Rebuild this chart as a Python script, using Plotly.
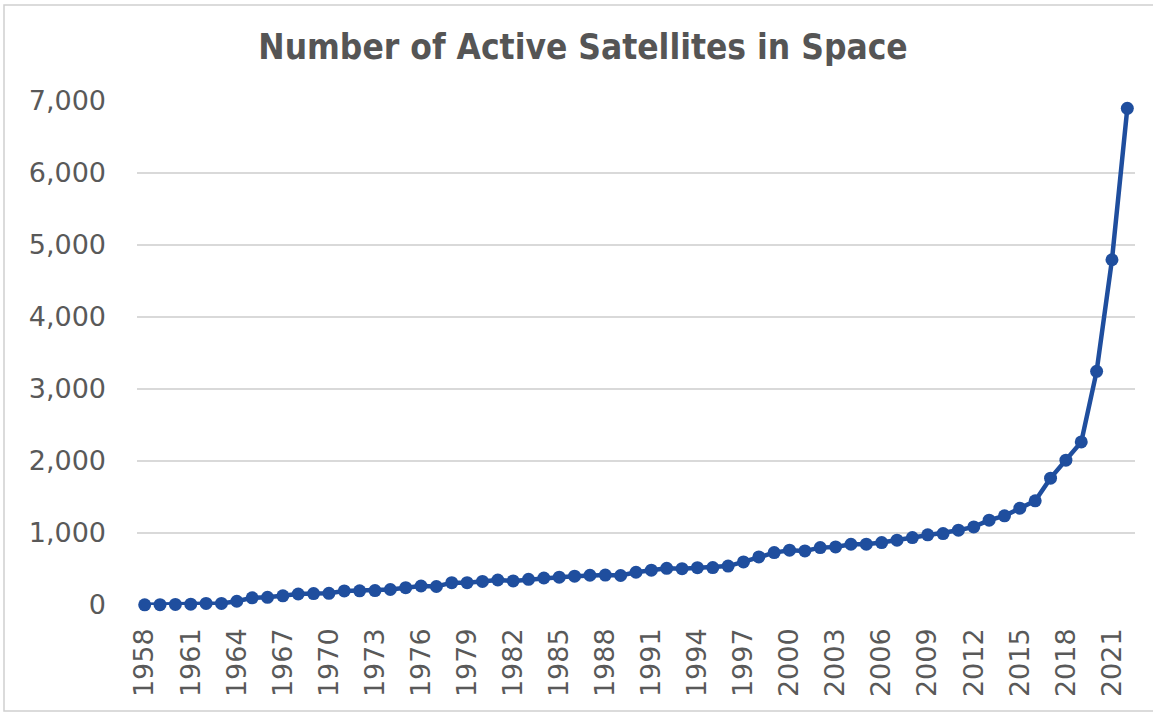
import plotly.graph_objects as go

years = list(range(1958, 2023))
active_satellites = [
    2, 5, 8, 12, 22, 22, 52, 100, 107, 128,
    153, 158, 162, 195, 197, 200, 215, 240, 264, 257,
    310, 310, 328, 347, 335, 357, 375, 387, 400, 413,
    415, 410, 455, 484, 510, 505, 519, 520, 540, 598,
    668, 728, 761, 751, 797, 807, 844, 845, 867, 900,
    936, 974, 992, 1039, 1085, 1178, 1238, 1345, 1447, 1762,
    2012, 2265, 3245, 4795, 6898,
]
tick_years = list(range(1958, 2023, 3))
y_ticks = [0, 1000, 2000, 3000, 4000, 5000, 6000, 7000]
title_text = "Number of Active Satellites in Space"

W, H = 1153, 714
L, R, T, B = 137, 18, 101, 109
pw, ph = W - L - R, H - T - B

fig = go.Figure()
fig.add_trace(go.Scatter(
    x=years, y=active_satellites, mode="lines+markers",
    line=dict(color="#1F4E9E", width=4.5),
    marker=dict(color="#1F4E9E", size=13),
    cliponaxis=False, showlegend=False,
))

tick_font = dict(family="DejaVu Sans, Verdana, sans-serif", size=27, color="#595959")

fig.update_layout(
    width=W, height=H,
    margin=dict(l=L, r=R, t=T, b=B, pad=0),
    paper_bgcolor="white", plot_bgcolor="white",
    font=dict(family="DejaVu Sans, sans-serif", color="#595959"),
    title=dict(
        text=f"<b>{title_text}</b>",
        x=(583 - L) / pw, xref="paper", xanchor="center",
        y=1 - 47 / H, yref="container", yanchor="middle",
        font=dict(family="DejaVu Sans Condensed, sans-serif",
                  size=35, color="#555555"),
    ),
    xaxis=dict(
        range=[1957.5, 2022.5],
        tickmode="array", tickvals=tick_years, ticktext=[str(t) for t in tick_years],
        tickangle=-90, showgrid=False, zeroline=False, showline=False,
        ticks="", ticklabelstandoff=17,
        tickfont=tick_font,
    ),
    yaxis=dict(
        range=[0, 7000],
        tickmode="array", tickvals=y_ticks,
        tickformat=",d",
        showgrid=True, gridcolor="#D9D9D9", gridwidth=1.5,
        zeroline=False, showline=False, ticks="", ticklabelstandoff=30,
        tickfont=tick_font,
    ),
    shapes=[dict(
        type="rect", xref="paper", yref="paper",
        x0=(4 - L) / pw, x1=(W + 5 - L) / pw,
        y0=-(711 - (T + ph)) / ph, y1=1 + (T - 5) / ph,
        line=dict(color="#D0D0D0", width=1.5), fillcolor="rgba(0,0,0,0)",
        layer="below",
    )],
)

fig.write_html("out.html")
